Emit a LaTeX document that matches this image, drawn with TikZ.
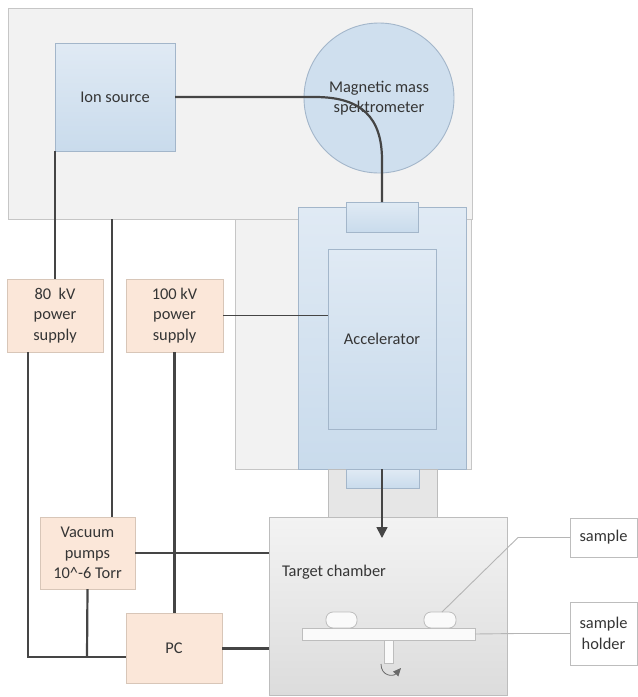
\documentclass[tikz,border=0pt]{standalone}
\usepackage{fontspec}
\setmainfont{Carlito}
\usetikzlibrary{arrows.meta}
\definecolor{txt}{HTML}{353535}
\definecolor{wire}{HTML}{454545}
\definecolor{regfill}{HTML}{F2F2F2}
\definecolor{regdraw}{HTML}{C6C6C6}
\definecolor{bluetop}{HTML}{E0EAF4}
\definecolor{bluebot}{HTML}{C9DBEC}
\definecolor{bluedraw}{HTML}{A3B6CA}
\definecolor{peachfill}{HTML}{FBE7D9}
\definecolor{peachdraw}{HTML}{D8C6B8}
\definecolor{chtop}{HTML}{F3F3F3}
\definecolor{chbot}{HTML}{DCDCDC}
\definecolor{chdraw}{HTML}{BDBDBD}
\definecolor{leader}{HTML}{B5B5B5}
\begin{document}
\begin{tikzpicture}[x=1pt,y=-1pt,
  every node/.style={font=\fontsize{16.4}{20.5}\selectfont, text=txt, inner sep=0pt, outer sep=0pt, align=center},
  box/.style={anchor=north west, rectangle},
  region/.style={box, fill=regfill, draw=regdraw, line width=0.9pt},
  bluebox/.style={box, top color=bluetop, bottom color=bluebot, draw=bluedraw, line width=0.9pt},
  peach/.style={box, fill=peachfill, draw=peachdraw, line width=0.9pt},
  chamberbox/.style={box, top color=chtop, bottom color=chbot, draw=chdraw, line width=0.9pt},
  labelbox/.style={box, fill=white, draw=chdraw, line width=0.9pt},
  partbox/.style={box, fill=white!60!chtop, draw=chdraw, line width=0.8pt},
  wireline/.style={draw=wire, line width=2.2pt},
  leaderline/.style={draw=leader, line width=0.9pt}
]
\useasboundingbox (0,0) rectangle (638,697);

% background regions
\node[region, minimum width=236pt, minimum height=250pt] (mid) at (235,219) {};
\node[region, minimum width=464pt, minimum height=211pt] (top) at (8,8) {};

% ion source and spectrometer
\node[bluebox, minimum width=120pt, minimum height=108pt] (ion) at (55,43) {Ion source};
\node[circle, fill=bluebot!75!bluetop, draw=bluedraw, line width=0.9pt, minimum size=150pt] (mms) at (379,98) {Magnetic mass\\spektrometer};

% accelerator
\node[bluebox, minimum width=168pt, minimum height=262pt] (acc) at (298,207) {};
\node[bluebox, minimum width=108pt, minimum height=180pt] (accin) at (328,249) {Accelerator};
\node[bluebox, minimum width=72pt, minimum height=30pt] (acctop) at (346,202) {};

% neck and chamber
\node[box, fill=chbot!70!white, draw=chdraw, line width=0.9pt, minimum width=109pt, minimum height=48pt] (neck) at (328,469) {};
\node[bluebox, minimum width=73pt, minimum height=19pt] (accbot) at (346,469) {};
\node[chamberbox, minimum width=238pt, minimum height=178pt] (chamber) at (269,517) {};
\node[anchor=west] (tclabel) at (282,572) {Target chamber};

% sample holder parts
\node[partbox, minimum width=173pt, minimum height=12pt] (plate) at (302,628) {};
\node[box, fill=white!60!chtop, draw=chdraw, line width=0.8pt, rounded corners=7pt, minimum width=31pt, minimum height=16pt] (sL) at (326,612) {};
\node[box, fill=white!60!chtop, draw=chdraw, line width=0.8pt, rounded corners=7pt, minimum width=32pt, minimum height=16pt] (sR) at (424,612) {};
\node[partbox, minimum width=9pt, minimum height=23pt] (stem) at (384,640) {};

% labels on the right
\node[labelbox, minimum width=67pt, minimum height=39pt] (sample) at (570,518) {sample};
\node[labelbox, minimum width=67pt, minimum height=63pt] (holder) at (570,602) {sample\\holder};

% power supplies etc.
\node[peach, minimum width=96pt, minimum height=73pt] (ps80) at (7,279) {80~ kV\\power\\supply};
\node[peach, minimum width=97pt, minimum height=73pt] (ps100) at (126,279) {100 kV\\power\\supply};
\node[peach, minimum width=95pt, minimum height=72pt] (vac) at (40,517) {Vacuum\\pumps\\10\textasciicircum-6 Torr};
\node[peach, minimum width=96pt, minimum height=70pt] (pc) at (126,613) {PC};

% coordinates
\coordinate (b1) at (315,97);
\coordinate (b2) at (382,160);
\coordinate (t1) at (112,219);
\coordinate (j) at (87,657);
\coordinate (tip) at (382,538);
\coordinate (ls) at (518,537.5);
\coordinate (lh) at (517,633.5);
\coordinate (rs) at (381,664);
\coordinate (re) at (401,668);

% beam line
\draw[wireline] (ion.east) -- (b1) .. controls (362,97) and (382,118) .. (b2) -- (acctop.north);

% wires
\draw[wireline] (ion.south west) -- (ion.south west |- ps80.north);
\draw[wireline] (t1) -- (t1 |- vac.north);
\draw[wireline, line width=1.7pt] (ps100.east) -- (ps100.east -| accin.west);
\draw[wireline] (ps100.south) -- (ps100.south |- pc.north);
\draw[wireline] ([xshift=21pt]ps80.south west) |- (j) -- (j -| pc.west);
\draw[wireline] (vac.south) -- (j);
\draw[wireline] (vac.east) -- (vac.east -| chamber.west);
\draw[wireline, line width=3pt] (pc.east) -- (pc.east -| chamber.west);

% beam arrow into chamber
\draw[wireline, line width=1.7pt, -{Triangle[length=11pt,width=11pt]}] (acc.south) -- (tip);

% rotation arrow
\draw[draw=wire!80, line width=0.8pt, -{Triangle[length=8pt,width=7pt]}] (rs) .. controls (381,676) and (393,677) .. (re);

% leader lines
\draw[leaderline] (sR.north east) ++(-14pt,0pt) -- (ls) -- (sample.west);
\draw[leaderline] (plate.east) -- (lh) -- (holder.west);
\end{tikzpicture}
\end{document}
